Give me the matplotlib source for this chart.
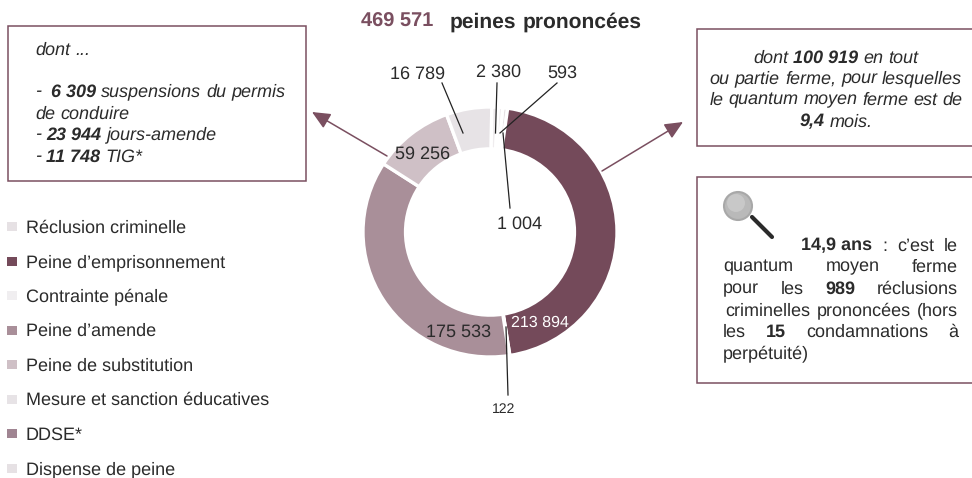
import matplotlib
matplotlib.use('Agg')
import matplotlib.pyplot as plt
from matplotlib.patches import Rectangle, Circle

plt.rcParams['font.family'] = ['Liberation Sans', 'DejaVu Sans']
plt.rcParams['text.hinting'] = 'no_hinting'
plt.rcParams['text.hinting_factor'] = 1

W, H = 972, 478
TEXT = '#2b2b2b'
PLUM = '#7a4f60'

# legend order is also the clockwise slice order
categories = ['Réclusion criminelle', 'Peine d’emprisonnement', 'Contrainte pénale', 'Peine d’amende',
              'Peine de substitution', 'Mesure et sanction éducatives', 'DDSE*', 'Dispense de peine']
values = [1004, 213894, 122, 175533, 59256, 16789, 2380, 593]
# the source does not draw its arcs to scale (small slices are widened), so arcs are read off the ring, in degrees
drawn_arcs = [2.2, 163, 0.3, 131.7, 37, 20.8, 3, 2]
slice_colors = ['#e6e1e4', '#744a5a', '#f0eef0', '#a98f99', '#cfc0c6', '#e7e3e6', '#efecee', '#efecee']
legend_colors = ['#e6e1e4', '#744a5a', '#f0eef0', '#a98f99', '#cfc0c6', '#e7e3e6', '#a08592', '#e6e1e4']


def fmt(v):
    return f'{v:,}'.replace(',', ' ')


def draw_line(ax, x, y, words, size, width=None, align='left', italic=False, color=TEXT):
    # words is a list of (word, bold); width given means justified
    r = ax.figure.canvas.get_renderer()
    style = 'italic' if italic else 'normal'
    arts = []
    for w, b in words:
        arts.append(ax.text(0, y, w, fontsize=size, style=style, color=color, va='center_baseline',
                            fontweight='bold' if b else 'normal'))
    widths = [a.get_window_extent(r).width for a in arts]
    sp = ax.text(0, y, 'a a', fontsize=size, style=style)
    sa = ax.text(0, y, 'aa', fontsize=size, style=style)
    gap = sp.get_window_extent(r).width - sa.get_window_extent(r).width
    sp.remove()
    sa.remove()
    if width is not None and len(words) > 1:
        gap = (width - sum(widths)) / (len(words) - 1)
    total = sum(widths) + gap * (len(words) - 1)
    if align == 'center':
        x = x - total / 2
    for a, w in zip(arts, widths):
        a.set_x(x)
        x += w + gap


fig = plt.figure(figsize=(W / 100, H / 100), dpi=100)
fig.canvas.draw()

# donut
cx, cy, rx, ry = 490, 232, 127, 125
ax_pie = fig.add_axes([(cx - rx) / W, 1 - (cy + ry) / H, 2 * rx / W, 2 * ry / H])
wedges, _ = ax_pie.pie(drawn_arcs, colors=slice_colors, startangle=84.2, counterclock=False, radius=1,
                       wedgeprops=dict(width=0.335, edgecolor='white', linewidth=2.4))
ax_pie.set_aspect('auto')
ax_pie.set_xlim(-1, 1)
ax_pie.set_ylim(-1, 1)

# overlay in pixel coordinates
ax = fig.add_axes([0, 0, 1, 1], zorder=3)
ax.set_xlim(0, W)
ax.set_ylim(H, 0)
ax.axis('off')
ax.patch.set_alpha(0)

draw_line(ax, 361, 20, [(fmt(sum(values)), True)], 14.6, color=PLUM)
draw_line(ax, 450, 20, [('peines', True), ('prononcées', True)], 15)

# legend
for i, (name, c) in enumerate(zip(categories, legend_colors)):
    y = 226 + i * 34.5
    ax.add_patch(Rectangle((7, y - 4), 10, 9, fc=c, ec='none'))
    ax.text(26, y, name, fontsize=13.1, color=TEXT, va='center_baseline')

# slice labels
lab = dict(ha='center', va='center_baseline', color=TEXT)
ax.text(418, 72, fmt(values[5]), fontsize=12.7, **lab)
ax.text(498.5, 70, fmt(values[6]), fontsize=12.7, **lab)
ax.text(562, 71, fmt(values[7]), fontsize=12.7, **lab)
ax.text(422.5, 152, fmt(values[4]), fontsize=12.7, **lab)
ax.text(520, 222, fmt(values[0]), fontsize=12.7, **lab)
ax.text(459, 330, fmt(values[3]), fontsize=12.9, **lab)
ax.text(540, 321, fmt(values[1]), fontsize=11.3, ha='center', va='center_baseline', color='white')
ax.text(504, 408, fmt(values[2]), fontsize=10, **lab)

# leader lines
leaders = [((442, 83), (463, 133)), ((497, 83), (495.5, 133)), ((557, 83), (500, 133)),
           ((503, 133), (510, 208)), ((506, 327), (508, 395))]
for (x0, y0), (x1, y1) in leaders:
    ax.plot([x0, x1], [y0, y1], color='#222222', lw=0.9)

# arrows to the boxes
for start, tip in [((387, 156), (312, 112)), ((602, 171), (683, 122))]:
    ax.annotate('', xy=tip, xytext=start,
                arrowprops=dict(arrowstyle='-|>,head_length=1.1,head_width=0.5', color=PLUM, lw=1.1,
                                shrinkA=0, shrinkB=0))

# boxes
for x, y, w, h in [(8, 26, 298, 155), (697, 29, 280, 117), (697, 177, 280, 206)]:
    ax.add_patch(Rectangle((x, y), w, h, fc='white', ec=PLUM, lw=1.1, clip_on=True, zorder=1))

fs = 13.2
draw_line(ax, 35, 48, [('dont', False), ('...', False)], fs, italic=True)
draw_line(ax, 35, 90, [('-', False), (' 6 309', True), ('suspensions', False), ('du', False), ('permis', False)], fs, italic=True)
draw_line(ax, 35, 112, [('de', False), ('conduire', False)], fs, italic=True)
draw_line(ax, 35, 133, [('-', False), ('23 944', True), ('jours-amende', False)], fs, italic=True)
draw_line(ax, 35, 155, [('-', False), ('11 748', True), ('TIG*', False)], fs, italic=True)

mid = 836
draw_line(ax, mid, 56, [('dont', False), ('100 919', True), ('en', False), ('tout', False)], fs, align='center', italic=True)
draw_line(ax, mid, 77, [('ou', False), ('partie', False), ('ferme,', False), ('pour', False), ('lesquelles', False)], fs, align='center', italic=True)
draw_line(ax, mid, 98, [('le', False), ('quantum', False), ('moyen', False), ('ferme', False), ('est', False), ('de', False)], fs, align='center', italic=True)
draw_line(ax, mid, 120, [('9,4', True), ('mois.', False)], fs, align='center', italic=True)

right = 958
draw_line(ax, 801, 244, [('14,9 ans', True), (':', False), ('c’est', False), ('le', False)], fs, width=right - 801)
jl = 723
draw_line(ax, jl, 265, [('quantum', False), ('moyen', False), ('ferme', False)], fs, width=right - jl)
draw_line(ax, jl, 287, [('pour', False), ('les', False), ('989', True), ('réclusions', False)], fs, width=right - jl)
draw_line(ax, jl + 2, 309, [('criminelles', False), ('prononcées', False), ('(hors', False)], fs, width=right - jl - 2)
draw_line(ax, jl, 330, [('les', False), ('15', True), ('condamnations', False), ('à', False)], fs, width=right - jl)
draw_line(ax, jl, 352, [('perpétuité)', False)], fs)

# magnifying glass
ax.plot([752, 772], [217, 237], color='#2a2a2a', lw=3, solid_capstyle='round', zorder=2)
ax.add_patch(Circle((738, 206), 14, fc='#b9b9b9', ec='#a8a8a8', lw=1.5, zorder=3))
ax.add_patch(Circle((736, 203), 9, fc='#c8c8c8', ec='none', zorder=3))

fig.savefig('out.png', dpi=100)
